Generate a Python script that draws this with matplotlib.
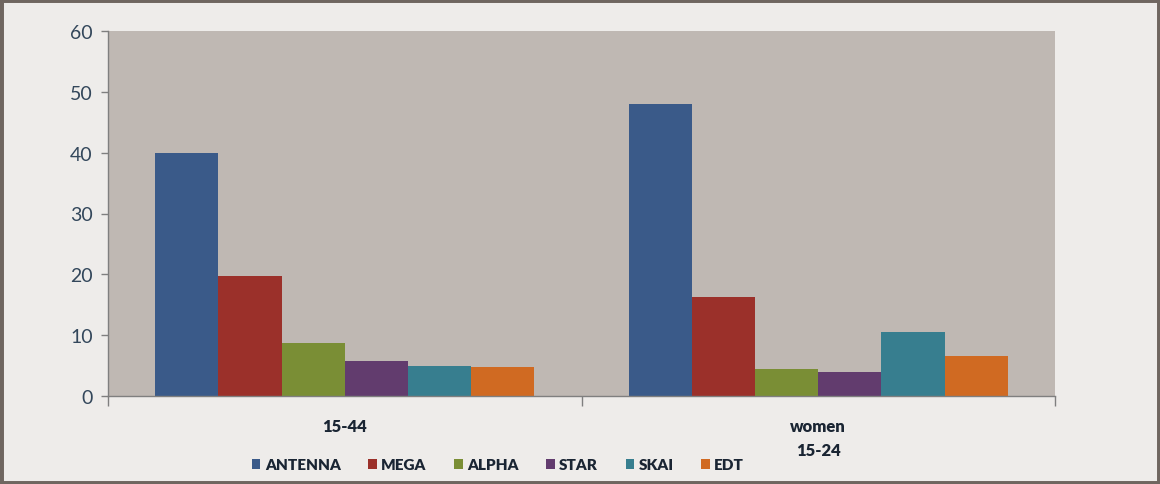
import matplotlib
matplotlib.use("Agg")
import matplotlib.pyplot as plt
from matplotlib.patches import Rectangle, Patch
import numpy as np

categories = ["15-44", "women\n15-24"]
series_names = ["ANTENNA", "MEGA", "ALPHA", "STAR", "SKAI", "EDT"]
antenna = [40.0, 48.0]
mega = [19.7, 16.2]
alpha = [8.7, 4.4]
star = [5.8, 3.9]
skai = [5.0, 10.6]
edt = [4.7, 6.6]
series_values = [antenna, mega, alpha, star, skai, edt]
colors = ["#3A5A89", "#9B302A", "#7A8E35", "#623C6E", "#377E8F", "#D06A22"]
yticks = [0, 10, 20, 30, 40, 50, 60]

plt.rcParams['font.family'] = ['Lato', 'DejaVu Sans']

fig = plt.figure(figsize=(11.6, 4.85), dpi=100)
fig.patch.set_facecolor("#EEECEA")
fig.patches.append(Rectangle((0, 0), 1, 1, transform=fig.transFigure,
                             fill=False, edgecolor="#6F6660", linewidth=5, zorder=10))

ax = fig.add_axes([108/1160, 1-397/485, (1055-108)/1160, (397-32)/485])
ax.set_facecolor("#BFB8B3")

n = len(series_names)
bw = 0.8 / n
x = np.arange(len(categories))
for i, (name, vals, c) in enumerate(zip(series_names, series_values, colors)):
    ax.bar(x - 0.4 + bw * (i + 0.5), vals, width=bw, color=c, label=name, zorder=2)

ax.set_xlim(-0.5, len(categories) - 0.5)
ax.set_ylim(0, 60)
ax.set_yticks(yticks)
ax.tick_params(axis='y', labelsize=14, labelcolor="#33475B", color="#7F7F7F",
               length=5, width=1, direction='out', pad=6)

ax.set_xticks(x)
ax.set_xticklabels(categories, fontsize=12, fontweight='heavy', color="#1A2533",
                   linespacing=1.6)
ax.tick_params(axis='x', length=0, pad=16)
ax.set_xticks([-0.5, 0.5, 1.5], minor=True)
ax.tick_params(axis='x', which='minor', length=7, color="#7F7F7F", width=1, direction='out')

for s in ["top", "right"]:
    ax.spines[s].set_visible(False)
for s in ["left", "bottom"]:
    ax.spines[s].set_color("#7F7F7F")
    ax.spines[s].set_linewidth(1)

handles = [Patch(facecolor=c, label=nm) for nm, c in zip(series_names, colors)]
fig.legend(handles=handles, loc='center', bbox_to_anchor=(498/1160, 1-466/485),
           ncol=n, frameon=False, prop={'size': 11, 'weight': 'heavy'},
           handlelength=0.55, handleheight=0.55, handletextpad=0.3,
           columnspacing=1.8, labelcolor="#1A2533")

fig.savefig("out.png", dpi=100, facecolor=fig.get_facecolor())
